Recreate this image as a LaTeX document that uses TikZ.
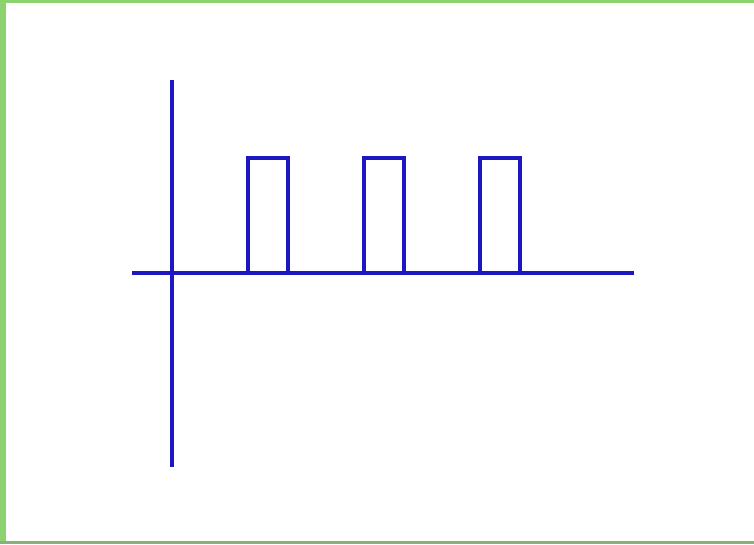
\documentclass[tikz,border=0pt]{standalone}
\definecolor{sig}{RGB}{28,22,195}
\definecolor{frameg}{RGB}{140,210,110}
\begin{document}
\begin{tikzpicture}[x=1pt,y=-1pt,
  sigline/.style={draw=sig,line width=3.2pt,line join=miter}]
\useasboundingbox (0,0) rectangle (754,544);
\fill[white] (0,0) rectangle (754,544);
\fill[frameg] (0,0) rectangle (754,3);
\fill[frameg] (0,0) rectangle (6,544);
\fill[frameg!60!gray] (0,541) rectangle (754,544);
\coordinate (ytop) at (172,80);
\coordinate (ybot) at (172,467);
\coordinate (xl) at (132,273);
\coordinate (xr) at (634,273);
\draw[sigline] (ytop) -- (ybot);
\draw[sigline] (xl) -- (xr);
\foreach \x in {248,364,480}{
  \draw[sigline] (\x,273) -- (\x,158) -- (\x+40,158) -- (\x+40,273);
}
\end{tikzpicture}
\end{document}
